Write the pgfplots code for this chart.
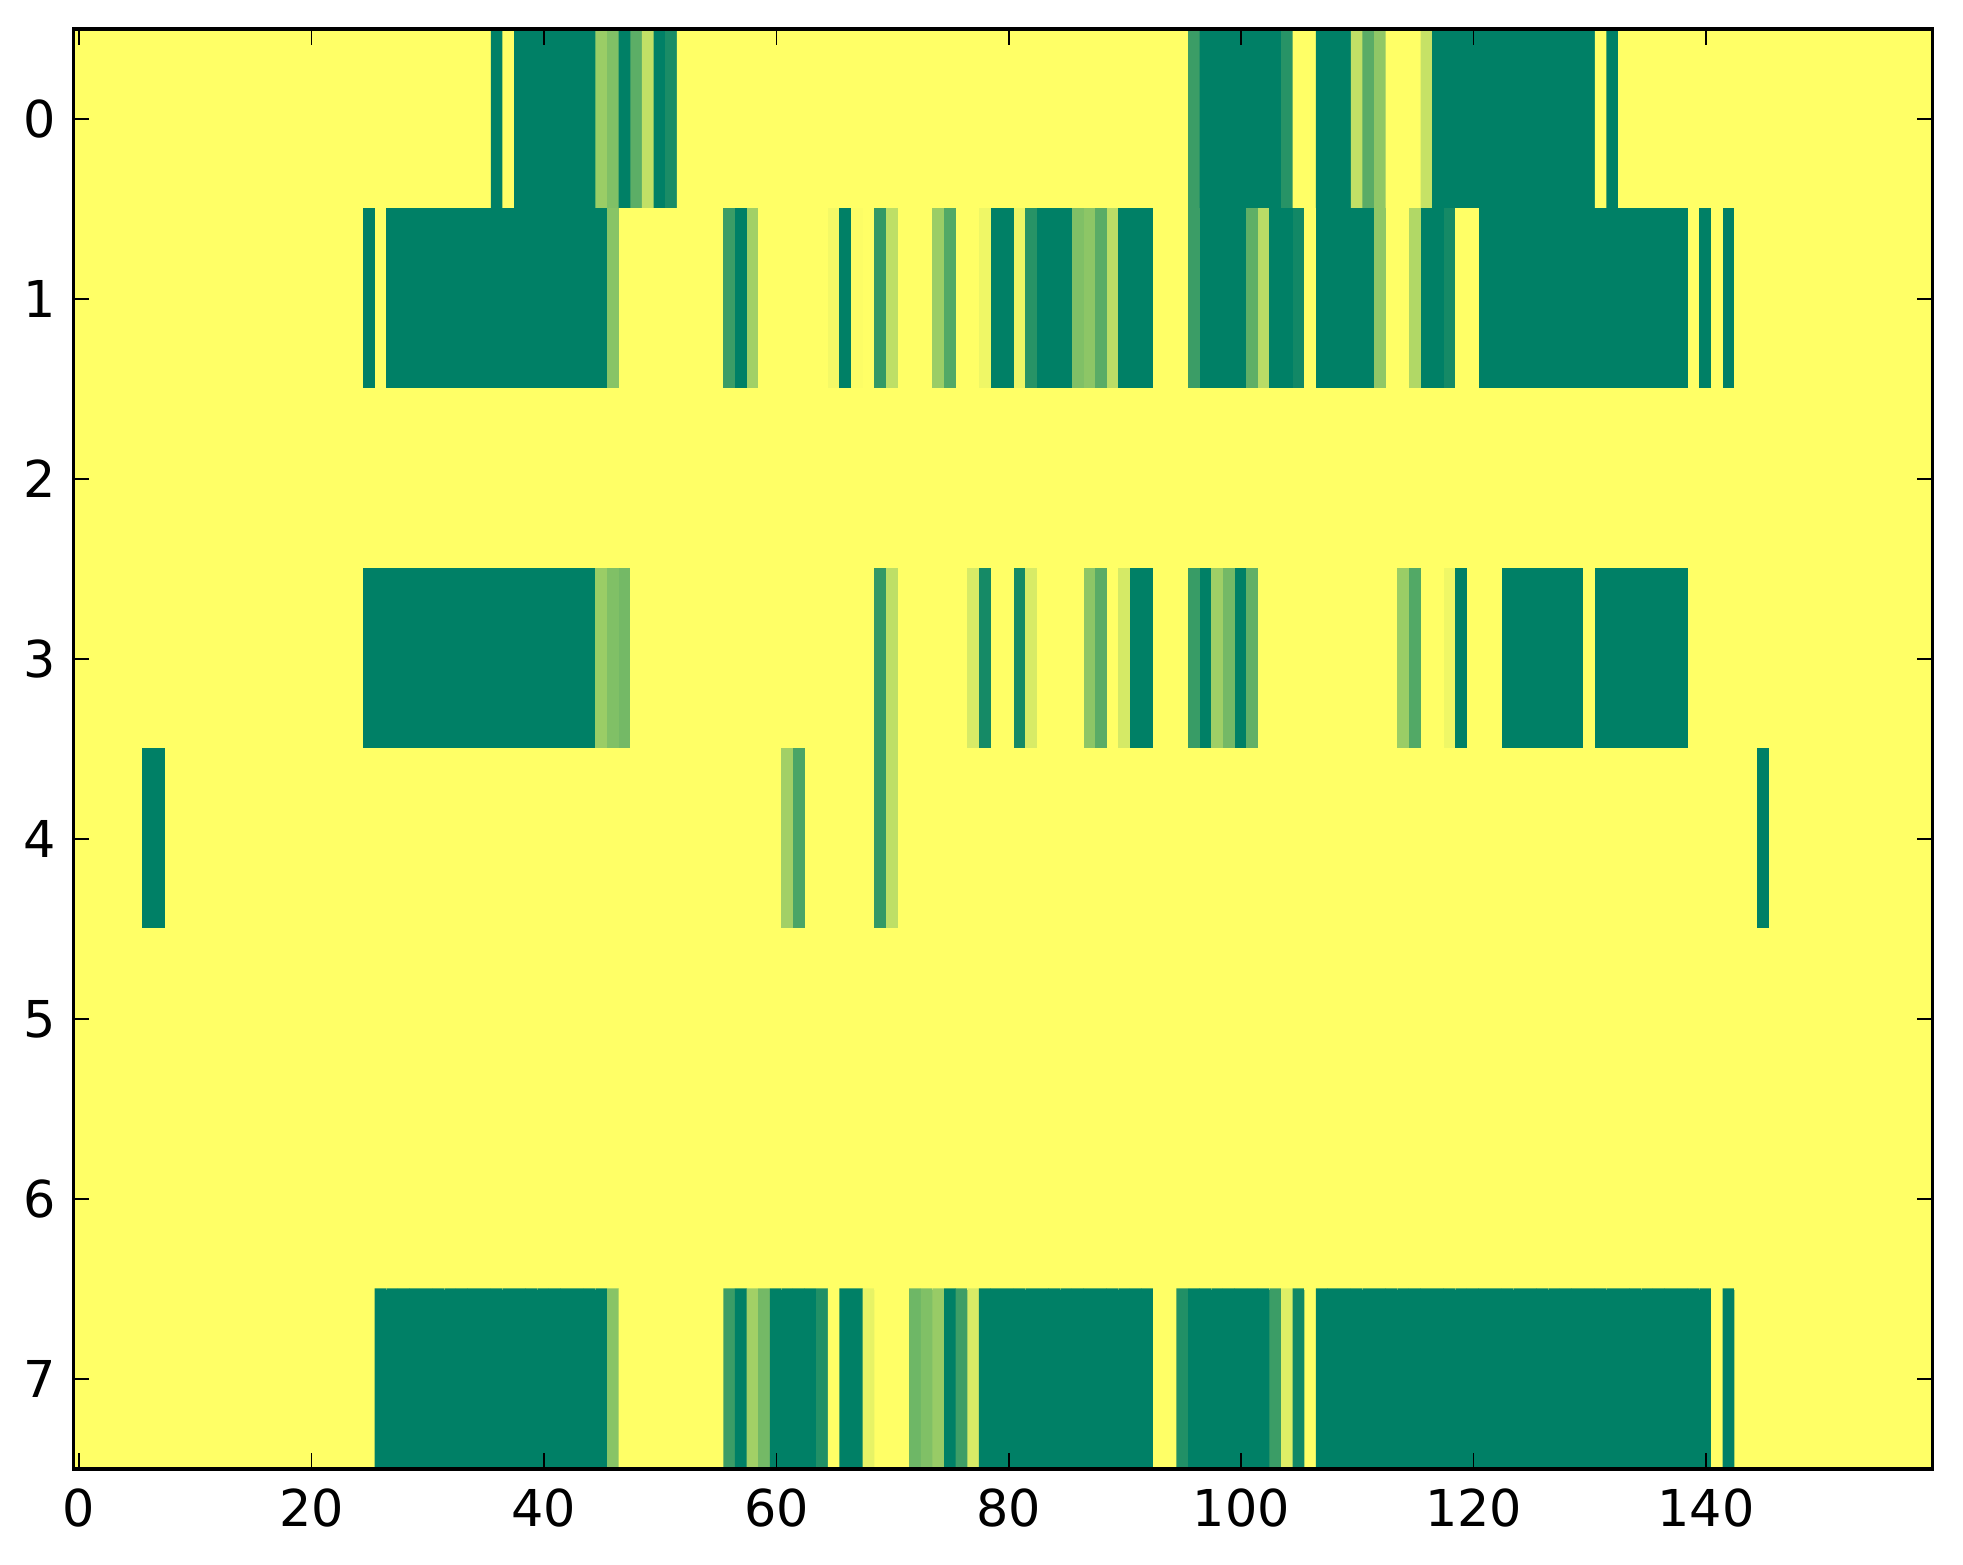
\documentclass[border=0pt]{standalone}
\usepackage{fontspec}
\setmainfont{DejaVu Sans}
\usepackage{pgfplots}
\pgfplotsset{compat=1.18}
\begin{document}
\begin{tikzpicture}
\path[use as bounding box] (-18.33pt,-23.75pt) rectangle (472.4pt,367.25pt);
\begin{axis}[
 at={(0,0)}, anchor=south west,
 scale only axis, width=464.8pt, height=360pt,
 xmin=-0.5, xmax=159.5, ymin=-0.5, ymax=7.5, y dir=reverse,
 xtick={0,20,...,140}, ytick={0,1,2,3,4,5,6,7},
 tick align=inside, tick pos=both,
 major tick length=3.9pt,
 every tick/.style={black, line width=0.4pt},
 axis line style={line width=0.8pt, black},
 colormap={summer}{rgb=(0,0.5,0.4) rgb=(1,1,0.4)},
 point meta min=0, point meta max=1,
 /pgf/number format/assume math mode=true,
 ticklabel style={font=\fontsize{12.7}{15}\selectfont, inner sep=0pt},
 xticklabel shift=4.75pt, yticklabel shift=4.15pt,
 axis on top,
]
\addplot[matrix plot*, mesh/cols=160, mesh/rows=8, point meta=explicit] coordinates {
(0,0)[1] (1,0)[1] (2,0)[1] (3,0)[1] (4,0)[1] (5,0)[1] (6,0)[1] (7,0)[1] (8,0)[1] (9,0)[1]
(10,0)[1] (11,0)[1] (12,0)[1] (13,0)[1] (14,0)[1] (15,0)[1] (16,0)[1] (17,0)[1] (18,0)[1] (19,0)[1]
(20,0)[1] (21,0)[1] (22,0)[1] (23,0)[1] (24,0)[1] (25,0)[1] (26,0)[1] (27,0)[1] (28,0)[1] (29,0)[1]
(30,0)[1] (31,0)[1] (32,0)[1] (33,0)[1] (34,0)[1] (35,0)[1] (36,0)[0] (37,0)[1] (38,0)[0] (39,0)[0]
(40,0)[0] (41,0)[0] (42,0)[0] (43,0)[0] (44,0)[0] (45,0)[.6] (46,0)[.5] (47,0)[0] (48,0)[.36] (49,0)[.75]
(50,0)[0] (51,0)[.1] (52,0)[1] (53,0)[1] (54,0)[1] (55,0)[1] (56,0)[1] (57,0)[1] (58,0)[1] (59,0)[1]
(60,0)[1] (61,0)[1] (62,0)[1] (63,0)[1] (64,0)[1] (65,0)[1] (66,0)[1] (67,0)[1] (68,0)[1] (69,0)[1]
(70,0)[1] (71,0)[1] (72,0)[1] (73,0)[1] (74,0)[1] (75,0)[1] (76,0)[1] (77,0)[1] (78,0)[1] (79,0)[1]
(80,0)[1] (81,0)[1] (82,0)[1] (83,0)[1] (84,0)[1] (85,0)[1] (86,0)[1] (87,0)[1] (88,0)[1] (89,0)[1]
(90,0)[1] (91,0)[1] (92,0)[1] (93,0)[1] (94,0)[1] (95,0)[1] (96,0)[.23] (97,0)[0] (98,0)[0] (99,0)[0]
(100,0)[0] (101,0)[0] (102,0)[0] (103,0)[0] (104,0)[.15] (105,0)[1] (106,0)[1] (107,0)[0] (108,0)[0] (109,0)[0]
(110,0)[.75] (111,0)[.35] (112,0)[.56] (113,0)[1] (114,0)[1] (115,0)[1] (116,0)[.77] (117,0)[0] (118,0)[0] (119,0)[0]
(120,0)[0] (121,0)[0] (122,0)[0] (123,0)[0] (124,0)[0] (125,0)[0] (126,0)[0] (127,0)[0] (128,0)[0] (129,0)[0]
(130,0)[0] (131,0)[1] (132,0)[0] (133,0)[1] (134,0)[1] (135,0)[1] (136,0)[1] (137,0)[1] (138,0)[1] (139,0)[1]
(140,0)[1] (141,0)[1] (142,0)[1] (143,0)[1] (144,0)[1] (145,0)[1] (146,0)[1] (147,0)[1] (148,0)[1] (149,0)[1]
(150,0)[1] (151,0)[1] (152,0)[1] (153,0)[1] (154,0)[1] (155,0)[1] (156,0)[1] (157,0)[1] (158,0)[1] (159,0)[1]
(0,1)[1] (1,1)[1] (2,1)[1] (3,1)[1] (4,1)[1] (5,1)[1] (6,1)[1] (7,1)[1] (8,1)[1] (9,1)[1]
(10,1)[1] (11,1)[1] (12,1)[1] (13,1)[1] (14,1)[1] (15,1)[1] (16,1)[1] (17,1)[1] (18,1)[1] (19,1)[1]
(20,1)[1] (21,1)[1] (22,1)[1] (23,1)[1] (24,1)[1] (25,1)[0] (26,1)[1] (27,1)[0] (28,1)[0] (29,1)[0]
(30,1)[0] (31,1)[0] (32,1)[0] (33,1)[0] (34,1)[0] (35,1)[0] (36,1)[0] (37,1)[0] (38,1)[0] (39,1)[0]
(40,1)[0] (41,1)[0] (42,1)[0] (43,1)[0] (44,1)[0] (45,1)[0] (46,1)[.53] (47,1)[1] (48,1)[1] (49,1)[1]
(50,1)[1] (51,1)[1] (52,1)[1] (53,1)[1] (54,1)[1] (55,1)[1] (56,1)[.23] (57,1)[0] (58,1)[.63] (59,1)[1]
(60,1)[1] (61,1)[1] (62,1)[1] (63,1)[1] (64,1)[1] (65,1)[.95] (66,1)[0] (67,1)[.98] (68,1)[1] (69,1)[.2]
(70,1)[.74] (71,1)[1] (72,1)[1] (73,1)[1] (74,1)[.6] (75,1)[.32] (76,1)[1] (77,1)[1] (78,1)[.93] (79,1)[0]
(80,1)[0] (81,1)[.92] (82,1)[.15] (83,1)[0] (84,1)[0] (85,1)[0] (86,1)[.5] (87,1)[.55] (88,1)[.35] (89,1)[.73]
(90,1)[0] (91,1)[0] (92,1)[0] (93,1)[1] (94,1)[1] (95,1)[1] (96,1)[.23] (97,1)[0] (98,1)[0] (99,1)[0]
(100,1)[0] (101,1)[.37] (102,1)[.72] (103,1)[0] (104,1)[0] (105,1)[.07] (106,1)[1] (107,1)[0] (108,1)[0] (109,1)[0]
(110,1)[0] (111,1)[0] (112,1)[.56] (113,1)[1] (114,1)[1] (115,1)[.69] (116,1)[0] (117,1)[0] (118,1)[.08] (119,1)[1]
(120,1)[1] (121,1)[0] (122,1)[0] (123,1)[0] (124,1)[0] (125,1)[0] (126,1)[0] (127,1)[0] (128,1)[0] (129,1)[0]
(130,1)[0] (131,1)[0] (132,1)[0] (133,1)[0] (134,1)[0] (135,1)[0] (136,1)[0] (137,1)[0] (138,1)[0] (139,1)[1]
(140,1)[0] (141,1)[1] (142,1)[0] (143,1)[1] (144,1)[1] (145,1)[1] (146,1)[1] (147,1)[1] (148,1)[1] (149,1)[1]
(150,1)[1] (151,1)[1] (152,1)[1] (153,1)[1] (154,1)[1] (155,1)[1] (156,1)[1] (157,1)[1] (158,1)[1] (159,1)[1]
(0,2)[1] (1,2)[1] (2,2)[1] (3,2)[1] (4,2)[1] (5,2)[1] (6,2)[1] (7,2)[1] (8,2)[1] (9,2)[1]
(10,2)[1] (11,2)[1] (12,2)[1] (13,2)[1] (14,2)[1] (15,2)[1] (16,2)[1] (17,2)[1] (18,2)[1] (19,2)[1]
(20,2)[1] (21,2)[1] (22,2)[1] (23,2)[1] (24,2)[1] (25,2)[1] (26,2)[1] (27,2)[1] (28,2)[1] (29,2)[1]
(30,2)[1] (31,2)[1] (32,2)[1] (33,2)[1] (34,2)[1] (35,2)[1] (36,2)[1] (37,2)[1] (38,2)[1] (39,2)[1]
(40,2)[1] (41,2)[1] (42,2)[1] (43,2)[1] (44,2)[1] (45,2)[1] (46,2)[1] (47,2)[1] (48,2)[1] (49,2)[1]
(50,2)[1] (51,2)[1] (52,2)[1] (53,2)[1] (54,2)[1] (55,2)[1] (56,2)[1] (57,2)[1] (58,2)[1] (59,2)[1]
(60,2)[1] (61,2)[1] (62,2)[1] (63,2)[1] (64,2)[1] (65,2)[1] (66,2)[1] (67,2)[1] (68,2)[1] (69,2)[1]
(70,2)[1] (71,2)[1] (72,2)[1] (73,2)[1] (74,2)[1] (75,2)[1] (76,2)[1] (77,2)[1] (78,2)[1] (79,2)[1]
(80,2)[1] (81,2)[1] (82,2)[1] (83,2)[1] (84,2)[1] (85,2)[1] (86,2)[1] (87,2)[1] (88,2)[1] (89,2)[1]
(90,2)[1] (91,2)[1] (92,2)[1] (93,2)[1] (94,2)[1] (95,2)[1] (96,2)[1] (97,2)[1] (98,2)[1] (99,2)[1]
(100,2)[1] (101,2)[1] (102,2)[1] (103,2)[1] (104,2)[1] (105,2)[1] (106,2)[1] (107,2)[1] (108,2)[1] (109,2)[1]
(110,2)[1] (111,2)[1] (112,2)[1] (113,2)[1] (114,2)[1] (115,2)[1] (116,2)[1] (117,2)[1] (118,2)[1] (119,2)[1]
(120,2)[1] (121,2)[1] (122,2)[1] (123,2)[1] (124,2)[1] (125,2)[1] (126,2)[1] (127,2)[1] (128,2)[1] (129,2)[1]
(130,2)[1] (131,2)[1] (132,2)[1] (133,2)[1] (134,2)[1] (135,2)[1] (136,2)[1] (137,2)[1] (138,2)[1] (139,2)[1]
(140,2)[1] (141,2)[1] (142,2)[1] (143,2)[1] (144,2)[1] (145,2)[1] (146,2)[1] (147,2)[1] (148,2)[1] (149,2)[1]
(150,2)[1] (151,2)[1] (152,2)[1] (153,2)[1] (154,2)[1] (155,2)[1] (156,2)[1] (157,2)[1] (158,2)[1] (159,2)[1]
(0,3)[1] (1,3)[1] (2,3)[1] (3,3)[1] (4,3)[1] (5,3)[1] (6,3)[1] (7,3)[1] (8,3)[1] (9,3)[1]
(10,3)[1] (11,3)[1] (12,3)[1] (13,3)[1] (14,3)[1] (15,3)[1] (16,3)[1] (17,3)[1] (18,3)[1] (19,3)[1]
(20,3)[1] (21,3)[1] (22,3)[1] (23,3)[1] (24,3)[1] (25,3)[0] (26,3)[0] (27,3)[0] (28,3)[0] (29,3)[0]
(30,3)[0] (31,3)[0] (32,3)[0] (33,3)[0] (34,3)[0] (35,3)[0] (36,3)[0] (37,3)[0] (38,3)[0] (39,3)[0]
(40,3)[0] (41,3)[0] (42,3)[0] (43,3)[0] (44,3)[0] (45,3)[.6] (46,3)[.5] (47,3)[.45] (48,3)[1] (49,3)[1]
(50,3)[1] (51,3)[1] (52,3)[1] (53,3)[1] (54,3)[1] (55,3)[1] (56,3)[1] (57,3)[1] (58,3)[1] (59,3)[1]
(60,3)[1] (61,3)[1] (62,3)[1] (63,3)[1] (64,3)[1] (65,3)[1] (66,3)[1] (67,3)[1] (68,3)[1] (69,3)[.2]
(70,3)[.74] (71,3)[1] (72,3)[1] (73,3)[1] (74,3)[1] (75,3)[1] (76,3)[1] (77,3)[.84] (78,3)[.08] (79,3)[1]
(80,3)[1] (81,3)[.08] (82,3)[.84] (83,3)[1] (84,3)[1] (85,3)[1] (86,3)[1] (87,3)[.55] (88,3)[.35] (89,3)[1]
(90,3)[.83] (91,3)[0] (92,3)[0] (93,3)[1] (94,3)[1] (95,3)[1] (96,3)[.22] (97,3)[0] (98,3)[.62] (99,3)[.45]
(100,3)[0] (101,3)[.38] (102,3)[1] (103,3)[1] (104,3)[1] (105,3)[1] (106,3)[1] (107,3)[1] (108,3)[1] (109,3)[1]
(110,3)[1] (111,3)[1] (112,3)[1] (113,3)[1] (114,3)[.6] (115,3)[.32] (116,3)[1] (117,3)[1] (118,3)[.93] (119,3)[0]
(120,3)[1] (121,3)[1] (122,3)[1] (123,3)[0] (124,3)[0] (125,3)[0] (126,3)[0] (127,3)[0] (128,3)[0] (129,3)[0]
(130,3)[1] (131,3)[0] (132,3)[0] (133,3)[0] (134,3)[0] (135,3)[0] (136,3)[0] (137,3)[0] (138,3)[0] (139,3)[1]
(140,3)[1] (141,3)[1] (142,3)[1] (143,3)[1] (144,3)[1] (145,3)[1] (146,3)[1] (147,3)[1] (148,3)[1] (149,3)[1]
(150,3)[1] (151,3)[1] (152,3)[1] (153,3)[1] (154,3)[1] (155,3)[1] (156,3)[1] (157,3)[1] (158,3)[1] (159,3)[1]
(0,4)[1] (1,4)[1] (2,4)[1] (3,4)[1] (4,4)[1] (5,4)[1] (6,4)[0] (7,4)[0] (8,4)[1] (9,4)[1]
(10,4)[1] (11,4)[1] (12,4)[1] (13,4)[1] (14,4)[1] (15,4)[1] (16,4)[1] (17,4)[1] (18,4)[1] (19,4)[1]
(20,4)[1] (21,4)[1] (22,4)[1] (23,4)[1] (24,4)[1] (25,4)[1] (26,4)[1] (27,4)[1] (28,4)[1] (29,4)[1]
(30,4)[1] (31,4)[1] (32,4)[1] (33,4)[1] (34,4)[1] (35,4)[1] (36,4)[1] (37,4)[1] (38,4)[1] (39,4)[1]
(40,4)[1] (41,4)[1] (42,4)[1] (43,4)[1] (44,4)[1] (45,4)[1] (46,4)[1] (47,4)[1] (48,4)[1] (49,4)[1]
(50,4)[1] (51,4)[1] (52,4)[1] (53,4)[1] (54,4)[1] (55,4)[1] (56,4)[1] (57,4)[1] (58,4)[1] (59,4)[1]
(60,4)[1] (61,4)[.63] (62,4)[.29] (63,4)[1] (64,4)[1] (65,4)[1] (66,4)[1] (67,4)[1] (68,4)[1] (69,4)[.2]
(70,4)[.74] (71,4)[1] (72,4)[1] (73,4)[1] (74,4)[1] (75,4)[1] (76,4)[1] (77,4)[1] (78,4)[1] (79,4)[1]
(80,4)[1] (81,4)[1] (82,4)[1] (83,4)[1] (84,4)[1] (85,4)[1] (86,4)[1] (87,4)[1] (88,4)[1] (89,4)[1]
(90,4)[1] (91,4)[1] (92,4)[1] (93,4)[1] (94,4)[1] (95,4)[1] (96,4)[1] (97,4)[1] (98,4)[1] (99,4)[1]
(100,4)[1] (101,4)[1] (102,4)[1] (103,4)[1] (104,4)[1] (105,4)[1] (106,4)[1] (107,4)[1] (108,4)[1] (109,4)[1]
(110,4)[1] (111,4)[1] (112,4)[1] (113,4)[1] (114,4)[1] (115,4)[1] (116,4)[1] (117,4)[1] (118,4)[1] (119,4)[1]
(120,4)[1] (121,4)[1] (122,4)[1] (123,4)[1] (124,4)[1] (125,4)[1] (126,4)[1] (127,4)[1] (128,4)[1] (129,4)[1]
(130,4)[1] (131,4)[1] (132,4)[1] (133,4)[1] (134,4)[1] (135,4)[1] (136,4)[1] (137,4)[1] (138,4)[1] (139,4)[1]
(140,4)[1] (141,4)[1] (142,4)[1] (143,4)[1] (144,4)[1] (145,4)[0] (146,4)[1] (147,4)[1] (148,4)[1] (149,4)[1]
(150,4)[1] (151,4)[1] (152,4)[1] (153,4)[1] (154,4)[1] (155,4)[1] (156,4)[1] (157,4)[1] (158,4)[1] (159,4)[1]
(0,5)[1] (1,5)[1] (2,5)[1] (3,5)[1] (4,5)[1] (5,5)[1] (6,5)[1] (7,5)[1] (8,5)[1] (9,5)[1]
(10,5)[1] (11,5)[1] (12,5)[1] (13,5)[1] (14,5)[1] (15,5)[1] (16,5)[1] (17,5)[1] (18,5)[1] (19,5)[1]
(20,5)[1] (21,5)[1] (22,5)[1] (23,5)[1] (24,5)[1] (25,5)[1] (26,5)[1] (27,5)[1] (28,5)[1] (29,5)[1]
(30,5)[1] (31,5)[1] (32,5)[1] (33,5)[1] (34,5)[1] (35,5)[1] (36,5)[1] (37,5)[1] (38,5)[1] (39,5)[1]
(40,5)[1] (41,5)[1] (42,5)[1] (43,5)[1] (44,5)[1] (45,5)[1] (46,5)[1] (47,5)[1] (48,5)[1] (49,5)[1]
(50,5)[1] (51,5)[1] (52,5)[1] (53,5)[1] (54,5)[1] (55,5)[1] (56,5)[1] (57,5)[1] (58,5)[1] (59,5)[1]
(60,5)[1] (61,5)[1] (62,5)[1] (63,5)[1] (64,5)[1] (65,5)[1] (66,5)[1] (67,5)[1] (68,5)[1] (69,5)[1]
(70,5)[1] (71,5)[1] (72,5)[1] (73,5)[1] (74,5)[1] (75,5)[1] (76,5)[1] (77,5)[1] (78,5)[1] (79,5)[1]
(80,5)[1] (81,5)[1] (82,5)[1] (83,5)[1] (84,5)[1] (85,5)[1] (86,5)[1] (87,5)[1] (88,5)[1] (89,5)[1]
(90,5)[1] (91,5)[1] (92,5)[1] (93,5)[1] (94,5)[1] (95,5)[1] (96,5)[1] (97,5)[1] (98,5)[1] (99,5)[1]
(100,5)[1] (101,5)[1] (102,5)[1] (103,5)[1] (104,5)[1] (105,5)[1] (106,5)[1] (107,5)[1] (108,5)[1] (109,5)[1]
(110,5)[1] (111,5)[1] (112,5)[1] (113,5)[1] (114,5)[1] (115,5)[1] (116,5)[1] (117,5)[1] (118,5)[1] (119,5)[1]
(120,5)[1] (121,5)[1] (122,5)[1] (123,5)[1] (124,5)[1] (125,5)[1] (126,5)[1] (127,5)[1] (128,5)[1] (129,5)[1]
(130,5)[1] (131,5)[1] (132,5)[1] (133,5)[1] (134,5)[1] (135,5)[1] (136,5)[1] (137,5)[1] (138,5)[1] (139,5)[1]
(140,5)[1] (141,5)[1] (142,5)[1] (143,5)[1] (144,5)[1] (145,5)[1] (146,5)[1] (147,5)[1] (148,5)[1] (149,5)[1]
(150,5)[1] (151,5)[1] (152,5)[1] (153,5)[1] (154,5)[1] (155,5)[1] (156,5)[1] (157,5)[1] (158,5)[1] (159,5)[1]
(0,6)[1] (1,6)[1] (2,6)[1] (3,6)[1] (4,6)[1] (5,6)[1] (6,6)[1] (7,6)[1] (8,6)[1] (9,6)[1]
(10,6)[1] (11,6)[1] (12,6)[1] (13,6)[1] (14,6)[1] (15,6)[1] (16,6)[1] (17,6)[1] (18,6)[1] (19,6)[1]
(20,6)[1] (21,6)[1] (22,6)[1] (23,6)[1] (24,6)[1] (25,6)[1] (26,6)[1] (27,6)[1] (28,6)[1] (29,6)[1]
(30,6)[1] (31,6)[1] (32,6)[1] (33,6)[1] (34,6)[1] (35,6)[1] (36,6)[1] (37,6)[1] (38,6)[1] (39,6)[1]
(40,6)[1] (41,6)[1] (42,6)[1] (43,6)[1] (44,6)[1] (45,6)[1] (46,6)[1] (47,6)[1] (48,6)[1] (49,6)[1]
(50,6)[1] (51,6)[1] (52,6)[1] (53,6)[1] (54,6)[1] (55,6)[1] (56,6)[1] (57,6)[1] (58,6)[1] (59,6)[1]
(60,6)[1] (61,6)[1] (62,6)[1] (63,6)[1] (64,6)[1] (65,6)[1] (66,6)[1] (67,6)[1] (68,6)[1] (69,6)[1]
(70,6)[1] (71,6)[1] (72,6)[1] (73,6)[1] (74,6)[1] (75,6)[1] (76,6)[1] (77,6)[1] (78,6)[1] (79,6)[1]
(80,6)[1] (81,6)[1] (82,6)[1] (83,6)[1] (84,6)[1] (85,6)[1] (86,6)[1] (87,6)[1] (88,6)[1] (89,6)[1]
(90,6)[1] (91,6)[1] (92,6)[1] (93,6)[1] (94,6)[1] (95,6)[1] (96,6)[1] (97,6)[1] (98,6)[1] (99,6)[1]
(100,6)[1] (101,6)[1] (102,6)[1] (103,6)[1] (104,6)[1] (105,6)[1] (106,6)[1] (107,6)[1] (108,6)[1] (109,6)[1]
(110,6)[1] (111,6)[1] (112,6)[1] (113,6)[1] (114,6)[1] (115,6)[1] (116,6)[1] (117,6)[1] (118,6)[1] (119,6)[1]
(120,6)[1] (121,6)[1] (122,6)[1] (123,6)[1] (124,6)[1] (125,6)[1] (126,6)[1] (127,6)[1] (128,6)[1] (129,6)[1]
(130,6)[1] (131,6)[1] (132,6)[1] (133,6)[1] (134,6)[1] (135,6)[1] (136,6)[1] (137,6)[1] (138,6)[1] (139,6)[1]
(140,6)[1] (141,6)[1] (142,6)[1] (143,6)[1] (144,6)[1] (145,6)[1] (146,6)[1] (147,6)[1] (148,6)[1] (149,6)[1]
(150,6)[1] (151,6)[1] (152,6)[1] (153,6)[1] (154,6)[1] (155,6)[1] (156,6)[1] (157,6)[1] (158,6)[1] (159,6)[1]
(0,7)[1] (1,7)[1] (2,7)[1] (3,7)[1] (4,7)[1] (5,7)[1] (6,7)[1] (7,7)[1] (8,7)[1] (9,7)[1]
(10,7)[1] (11,7)[1] (12,7)[1] (13,7)[1] (14,7)[1] (15,7)[1] (16,7)[1] (17,7)[1] (18,7)[1] (19,7)[1]
(20,7)[1] (21,7)[1] (22,7)[1] (23,7)[1] (24,7)[1] (25,7)[1] (26,7)[0] (27,7)[0] (28,7)[0] (29,7)[0]
(30,7)[0] (31,7)[0] (32,7)[0] (33,7)[0] (34,7)[0] (35,7)[0] (36,7)[0] (37,7)[0] (38,7)[0] (39,7)[0]
(40,7)[0] (41,7)[0] (42,7)[0] (43,7)[0] (44,7)[0] (45,7)[0] (46,7)[.53] (47,7)[1] (48,7)[1] (49,7)[1]
(50,7)[1] (51,7)[1] (52,7)[1] (53,7)[1] (54,7)[1] (55,7)[1] (56,7)[.23] (57,7)[0] (58,7)[.63] (59,7)[.45]
(60,7)[0] (61,7)[0] (62,7)[0] (63,7)[0] (64,7)[.13] (65,7)[1] (66,7)[0] (67,7)[0] (68,7)[.9] (69,7)[1]
(70,7)[1] (71,7)[1] (72,7)[.43] (73,7)[.5] (74,7)[.59] (75,7)[0] (76,7)[.24] (77,7)[.84] (78,7)[0] (79,7)[0]
(80,7)[0] (81,7)[0] (82,7)[0] (83,7)[0] (84,7)[0] (85,7)[0] (86,7)[0] (87,7)[0] (88,7)[0] (89,7)[0]
(90,7)[0] (91,7)[0] (92,7)[0] (93,7)[1] (94,7)[1] (95,7)[.13] (96,7)[0] (97,7)[0] (98,7)[0] (99,7)[0]
(100,7)[0] (101,7)[0] (102,7)[0] (103,7)[.23] (104,7)[.87] (105,7)[.07] (106,7)[1] (107,7)[0] (108,7)[0] (109,7)[0]
(110,7)[0] (111,7)[0] (112,7)[0] (113,7)[0] (114,7)[0] (115,7)[0] (116,7)[0] (117,7)[0] (118,7)[0] (119,7)[0]
(120,7)[0] (121,7)[0] (122,7)[0] (123,7)[0] (124,7)[0] (125,7)[0] (126,7)[0] (127,7)[0] (128,7)[0] (129,7)[0]
(130,7)[0] (131,7)[0] (132,7)[0] (133,7)[0] (134,7)[0] (135,7)[0] (136,7)[0] (137,7)[0] (138,7)[0] (139,7)[0]
(140,7)[0] (141,7)[1] (142,7)[0] (143,7)[1] (144,7)[1] (145,7)[1] (146,7)[1] (147,7)[1] (148,7)[1] (149,7)[1]
(150,7)[1] (151,7)[1] (152,7)[1] (153,7)[1] (154,7)[1] (155,7)[1] (156,7)[1] (157,7)[1] (158,7)[1] (159,7)[1]
};
\end{axis}
\end{tikzpicture}
\end{document}
